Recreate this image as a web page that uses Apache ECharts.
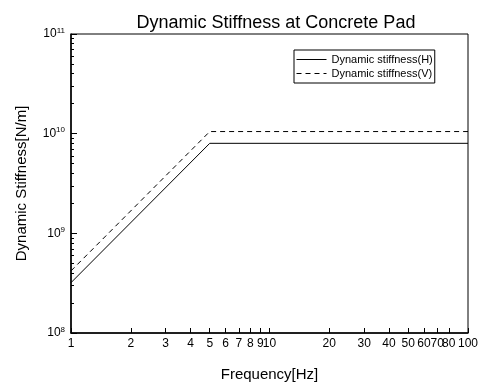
<!DOCTYPE html>
<html><head><meta charset="utf-8">
<script src="https://cdn.jsdelivr.net/npm/echarts@6/dist/echarts.min.js"></script>
<style>html,body{margin:0;padding:0;background:#fff}#c{width:485px;height:383px}</style>
</head><body><div id="c"></div>
<script>
const titleText = 'Dynamic Stiffness at Concrete Pad';
const xName = 'Frequency[Hz]';
const yName = 'Dynamic Stiffness[N/m]';
const seriesNames = ['Dynamic stiffness(H)', 'Dynamic stiffness(V)'];
const freqH = [1, 5, 100];
const stiffH = [3.2e8, 8.0e9, 8.0e9];
const freqV = [1, 5, 100];
const stiffV = [4.2e8, 1.05e10, 1.05e10];
const xTickValues = [1,2,3,4,5,6,7,8,9,10,20,30,40,50,60,70,80,90,100];
const yMajorValues = [1e8, 1e9, 1e10, 1e11];
const yMinorValues = [];
for (const d of [1e8,1e9,1e10]) for (let k=1;k<=9;k++) yMinorValues.push(k*d);
yMinorValues.push(1e11);

const font = 'Arial, "Liberation Sans", sans-serif';
const chart = echarts.init(document.getElementById('c'));
const yBase = {
  type: 'log', logBase: 10, min: 1e8, max: 1e11, position: 'left',
  splitLine: { show: false }
};
chart.setOption({
  animation: false,
  backgroundColor: '#fff',
  title: { text: titleText, left: 271, textAlign: 'center', top: 9,
    textStyle: { fontFamily: font, fontSize: 18, fontWeight: 'normal', color: '#000' } },
  grid: { left: 71, right: 17, top: 34, bottom: 50, show: true, borderColor: '#000', borderWidth: 1,
    containLabel: false, outerBoundsMode: 'none' },
  legend: {
    orient: 'vertical', left: 294, top: 50,
    backgroundColor: '#fff', borderColor: '#000', borderWidth: 1,
    padding: [4, 2, 4, 2], itemGap: 3, itemWidth: 30, itemHeight: 8,
    itemStyle: { opacity: 0 },
    lineStyle: { width: 1 },
    textStyle: { fontFamily: font, fontSize: 11, color: '#000' },
    data: seriesNames
  },
  xAxis: {
    type: 'log', logBase: 10, min: 1, max: 100,
    name: xName, nameLocation: 'middle', nameGap: 34,
    nameTextStyle: { fontFamily: font, fontSize: 15, color: '#000' },
    axisLine: { lineStyle: { color: '#000', width: 1.5 } },
    axisTick: { inside: true, length: 5, customValues: xTickValues, lineStyle: { color: '#000' } },
    axisLabel: { customValues: xTickValues, showMaxLabel: true, hideOverlap: false, fontFamily: font, fontSize: 12, color: '#000', margin: 5 },
    splitLine: { show: false }
  },
  yAxis: [
    Object.assign({}, yBase, {
      name: yName, nameLocation: 'middle', nameGap: 42,
      nameTextStyle: { fontFamily: font, fontSize: 15, color: '#000' },
      axisLine: { show: true, lineStyle: { color: '#000', width: 1.5 } },
      axisTick: { show: true, inside: true, length: 3, customValues: yMinorValues, lineStyle: { color: '#000' } },
      axisLabel: {
        customValues: yMajorValues, margin: 6,
        formatter: v => '{b|10}{s|' + Math.round(Math.log10(v)) + '}',
        rich: {
          b: { fontFamily: font, fontSize: 12, color: '#000' },
          s: { fontFamily: font, fontSize: 8, color: '#000', padding: [0, 0, 7, 0] }
        }
      }
    }),
    Object.assign({}, yBase, {
      axisLine: { show: false },
      axisTick: { show: true, inside: true, length: 6, customValues: yMajorValues, lineStyle: { color: '#000' } },
      axisLabel: { show: false }
    })
  ],
  series: [
    { name: seriesNames[0], type: 'line', symbol: 'none', yAxisIndex: 0,
      lineStyle: { color: '#000', width: 1, type: 'solid' }, itemStyle: { color: '#000' },
      data: freqH.map((f, i) => [f, stiffH[i]]) },
    { name: seriesNames[1], type: 'line', symbol: 'none', yAxisIndex: 0,
      lineStyle: { color: '#000', width: 1, type: [5, 4] }, itemStyle: { color: '#000' },
      data: freqV.map((f, i) => [f, stiffV[i]]) }
  ]
});
</script></body></html>
